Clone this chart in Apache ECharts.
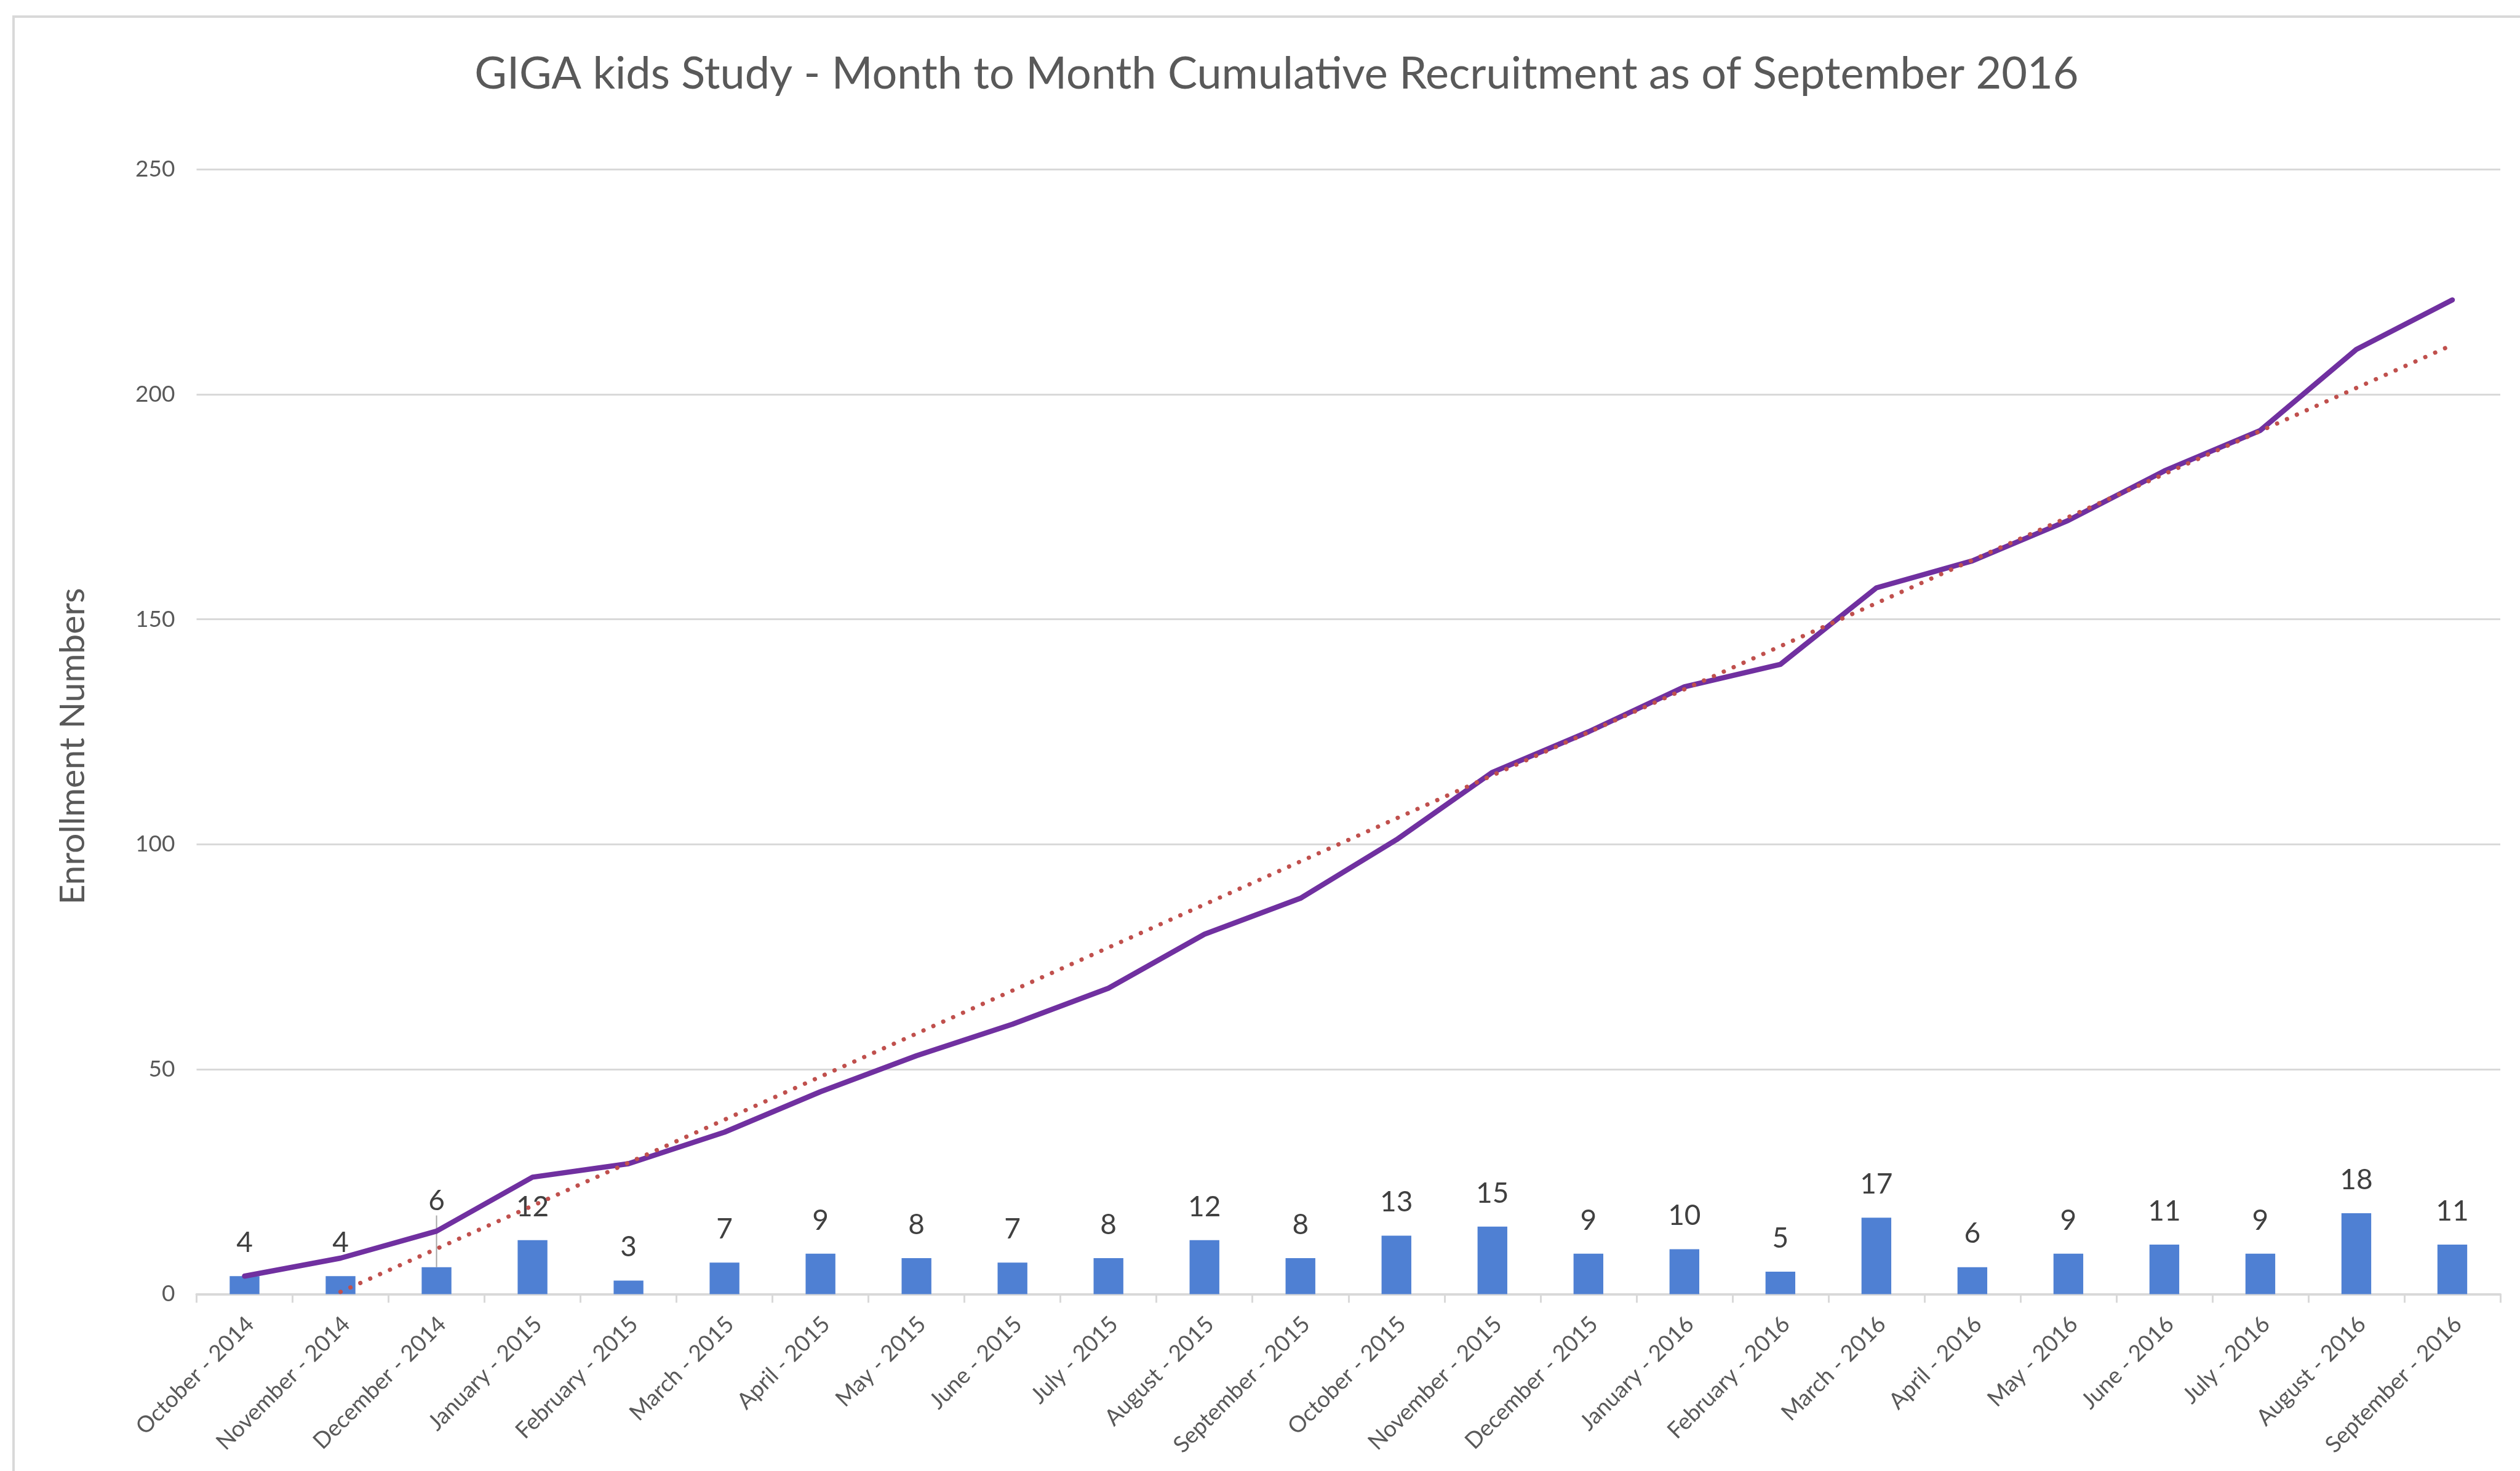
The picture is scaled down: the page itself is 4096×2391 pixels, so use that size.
<!DOCTYPE html>
<html><head><meta charset="utf-8">
<script src="https://cdn.jsdelivr.net/npm/echarts@6/dist/echarts.min.js"></script>
<style>html,body{margin:0;padding:0;background:#fff}#c{width:4096px;height:2391px}</style>
</head><body><div id="c"></div>
<script>
const titleText = 'GIGA kids Study - Month to Month Cumulative Recruitment as of September 2016';
const yAxisTitle = 'Enrollment Numbers';
const categories = ['October - 2014','November - 2014','December - 2014','January - 2015','February - 2015','March - 2015','April - 2015','May - 2015','June - 2015','July - 2015','August - 2015','September - 2015','October - 2015','November - 2015','December - 2015','January - 2016','February - 2016','March - 2016','April - 2016','May - 2016','June - 2016','July - 2016','August - 2016','September - 2016'];
const monthly = [4,4,6,12,3,7,9,8,7,8,12,8,13,15,9,10,5,17,6,9,11,9,18,11];
const cumulative = [4,8,14,26,29,36,45,53,60,68,80,88,101,116,125,135,140,157,163,172,183,192,210,221];
// linear trendline endpoints (starts at November - 2014, ends at September - 2016)
const trendStart = 0.5;
const trendEnd = 211;
const yMin = 0, yMax = 250, yStep = 50;

const FONT = 'Lato';
const trendData = categories.map((c, i) => i === 1 ? trendStart : (i === categories.length - 1 ? trendEnd : null));
const barData = monthly.map((v, i) => i === 2 ? {value: v, labelLine: {show: true}} : v);

const chart = echarts.init(document.getElementById('c'), null, {renderer: 'canvas'});
chart.setOption({
  animation: false,
  backgroundColor: '#fff',
  title: {
    text: titleText,
    left: 2070, top: 80, textAlign: 'center',
    textStyle: {fontFamily: FONT, fontSize: 72, fontWeight: 'normal', color: '#595959'}
  },
  grid: {left: 319.5, right: 32, top: 275.5, bottom: 287.5},
  xAxis: {
    type: 'category', data: categories, boundaryGap: true,
    axisLine: {lineStyle: {color: '#D9D9D9', width: 4}},
    axisTick: {show: true, length: 14, lineStyle: {color: '#D9D9D9', width: 3}},
    axisLabel: {rotate: 45, interval: 0, margin: 52, fontFamily: FONT, fontSize: 37, color: '#595959', padding: [25, -13, 0, 0]},
    splitLine: {show: false}
  },
  yAxis: {
    type: 'value', min: yMin, max: yMax, interval: yStep,
    axisLine: {show: false}, axisTick: {show: false},
    axisLabel: {margin: 35, fontFamily: FONT, fontSize: 37, color: '#595959'},
    splitLine: {lineStyle: {color: '#D9D9D9', width: 3}}
  },
  graphic: [
    {type: 'line', shape: {x1: 20, y1: 27, x2: 4096, y2: 27}, style: {stroke: '#D9D9D9', lineWidth: 4}, silent: true},
    {type: 'line', shape: {x1: 22, y1: 25, x2: 22, y2: 2391}, style: {stroke: '#D9D9D9', lineWidth: 4}, silent: true},
    {type: 'text', x: 119, y: 1213, rotation: Math.PI / 2,
     style: {text: yAxisTitle, fontFamily: FONT, fontSize: 57, fill: '#595959', align: 'center', verticalAlign: 'middle'}, silent: true}
  ],
  series: [
    {
      name: 'Monthly', type: 'bar', data: barData, barWidth: '31%',
      itemStyle: {color: '#4F80D3'},
      label: {show: true, position: 'top', distance: 31, fontFamily: FONT, fontSize: 46, color: '#404040'},
      labelLine: {show: false, lineStyle: {color: '#A6A6A6', width: 2}},
      labelLayout: function (p) { return p.dataIndex === 2 ? {dy: -53} : {}; },
      z: 2
    },
    {
      name: 'Cumulative', type: 'line', data: cumulative, symbol: 'none',
      lineStyle: {color: '#7030A0', width: 8.5, cap: 'round', join: 'round'}, z: 3
    },
    {
      name: 'Trend', type: 'line', data: trendData, connectNulls: true, symbol: 'none',
      lineStyle: {color: '#C0504D', width: 7, type: [0.1, 17.5], cap: 'round'}, z: 4
    }
  ]
});
</script></body></html>
